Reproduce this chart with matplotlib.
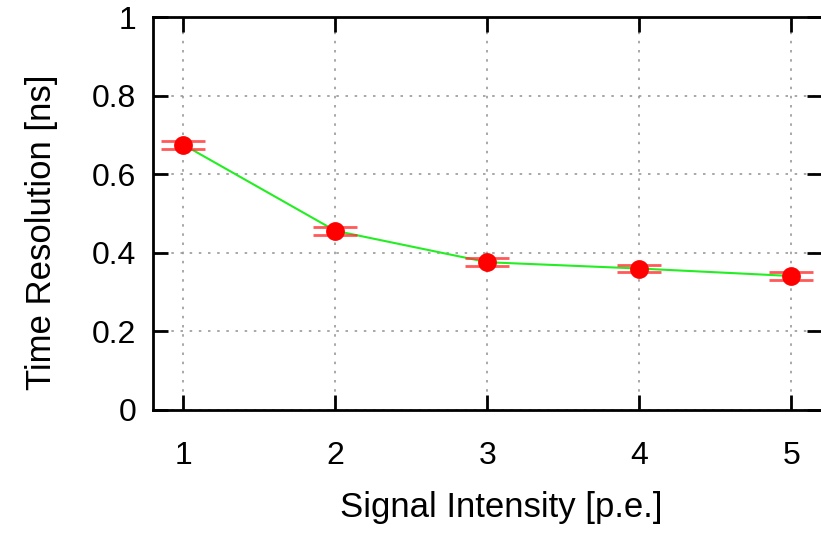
import matplotlib.pyplot as plt
from matplotlib.ticker import FuncFormatter

# data
intensity = [1, 2, 3, 4, 5]
resolution = [0.675, 0.456, 0.376, 0.360, 0.341]
res_err = [0.010, 0.010, 0.010, 0.010, 0.010]

plt.rcParams['font.family'] = ['Liberation Sans', 'DejaVu Sans']

fig = plt.figure(figsize=(8.21, 5.37), dpi=100)
ax = fig.add_axes([0.1864, 0.2365, 0.8146, 0.7318])

ax.plot(intensity, resolution, color='#22ee22', lw=1.5, zorder=2)
ax.errorbar(intensity, resolution, yerr=res_err, fmt='none', ecolor='#ff3030',
            elinewidth=1.5, capsize=15.5, capthick=2, alpha=0.8, zorder=3)
ax.plot(intensity, resolution, 'o', color='#ff0000', ms=12.5, mec='#ff0000', zorder=4)

ax.set_xlim(0.8, 5.2)
ax.set_ylim(0, 1)
ax.set_xticks(intensity)
ax.set_yticks([0, 0.2, 0.4, 0.6, 0.8, 1.0])
ax.yaxis.set_major_formatter(FuncFormatter(lambda v, p: f'{v:g}'))

ax.grid(True, color='#999999', ls=(0, (1.5, 4)), lw=1.2)
ax.set_axisbelow(True)
for s in ax.spines.values():
    s.set_linewidth(2)
ax.tick_params(direction='in', length=11, width=2, labelsize=23,
               top=True, right=True, pad=12)
ax.tick_params(axis='x', pad=22)

ax.set_xlabel('Signal Intensity [p.e.]', fontsize=25)
ax.set_ylabel('Time Resolution [ns]', fontsize=25)
ax.xaxis.set_label_coords(0.52, -0.205)
ax.yaxis.set_label_coords(-0.142, 0.453)

fig.savefig('out.png', dpi=100)
